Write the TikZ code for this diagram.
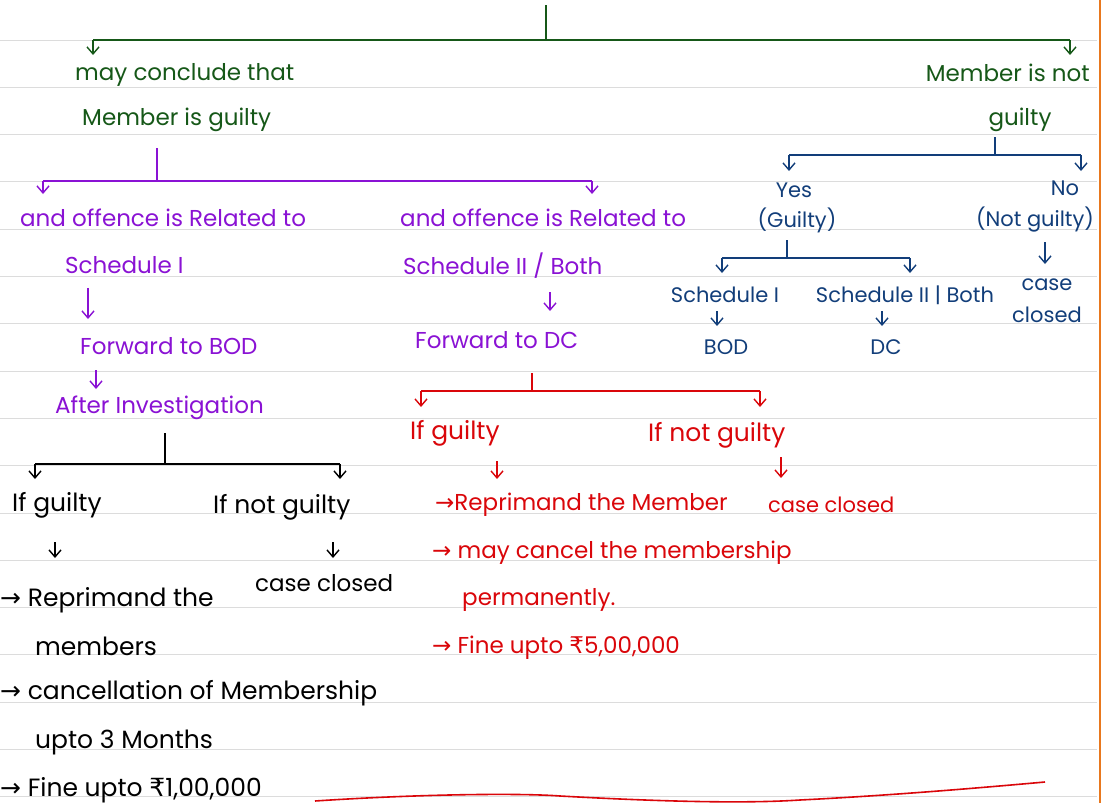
\documentclass[tikz,border=0pt]{standalone}
\usepackage{fontspec}
\setmainfont{Poppins}
\newfontfamily\sym{DejaVu Sans}
\usetikzlibrary{arrows.meta}
\definecolor{grn}{RGB}{22,88,24}
\definecolor{prp}{RGB}{138,18,212}
\definecolor{blu}{RGB}{18,62,122}
\definecolor{rd}{RGB}{218,6,10}
\definecolor{rulec}{RGB}{220,220,220}
\definecolor{edge}{RGB}{232,120,30}
\newcommand{\ar}{{\sym →}}
\newcommand{\rs}{{\sym ₹}}
\begin{document}
\begin{tikzpicture}[x=1pt,y=-1pt,
  txt/.style={inner sep=0pt, font=\fontsize{23}{26}\selectfont},
  big/.style={inner sep=0pt, font=\fontsize{25}{28}\selectfont},
  sm/.style={inner sep=0pt, font=\fontsize{21}{24}\selectfont},
  br/.style={line width=1.8pt},
  dn/.style={line width=1.4pt, -{Straight Barb[length=7pt,width=12pt,line width=1.4pt]}},
]
\useasboundingbox (0,0) rectangle (1101,803);
\fill[white] (0,0) rectangle (1101,803);
\foreach \k in {0,...,16} \draw[rulec, line width=1pt] (0,{40+47.3*\k}) -- (1097,{40+47.3*\k});
\draw[edge, line width=2pt] (1099.5,0) -- (1099.5,803);

% ---------- green level ----------
\coordinate (gtop) at (546,5);
\coordinate (gmid) at (546,40);
\coordinate (gL) at (93,40);
\coordinate (gR) at (1070,40);
\draw[grn,br] (gtop) -- (gmid);
\draw[grn,br] (gL) -- (gR);
\draw[grn,dn] (gL) -- ++(0,15);
\draw[grn,dn] (gR) -- ++(0,15);
\node[txt,grn,anchor=west] (g1) at (75,75) {may conclude that};
\node[txt,grn,anchor=west] (g2) at (82,120) {Member is guilty};
\node[txt,grn,anchor=east] (g3) at (1090,73) {Member is not};
\node[txt,grn] (g4) at (1020,120) {guilty};

% ---------- blue branch ----------
\coordinate (btop) at (995,137);
\coordinate (bmid) at (995,155);
\coordinate (bL) at (789,155);
\coordinate (bR) at (1081,155);
\draw[blu,line width=1.3pt] (btop) -- (bmid);
\draw[blu,br] (bL) -- (bR);
\draw[blu,dn] (bL) -- ++(0,16);
\draw[blu,dn] (bR) -- ++(0,16);
\node[sm,blu] (yes) at (794,190) {Yes};
\node[sm,blu] (yesg) at (797,220) {(Guilty)};
\node[sm,blu] (no) at (1065,188) {No};
\node[sm,blu] (nog) at (1035,220) {(Not guilty)};
\coordinate (ytop) at (787,240);
\coordinate (ymid) at (787,258);
\coordinate (yL) at (722,258);
\coordinate (yR) at (910,258);
\draw[blu,line width=1.3pt] (ytop) -- (ymid);
\draw[blu,br] (yL) -- (yR);
\draw[blu,dn] (yL) -- ++(0,15);
\draw[blu,dn] (yR) -- ++(0,15);
\node[sm,blu] (bs1) at (725,295) {Schedule I};
\node[sm,blu] (bs2) at (905,295) {Schedule II | Both};
\node[sm,blu] (bod) at (726,347) {BOD};
\node[sm,blu] (dc) at (886,347) {DC};
\draw[blu,dn] (717,311) -- (717,326);
\draw[blu,dn] (882,311) -- (882,326);
\draw[blu,dn] (1045,242) -- (1045,264);
\node[sm,blu] (cs) at (1047,285) {case};
\node[sm,blu] (cl) at (1047,315) {closed};

% ---------- purple branch ----------
\coordinate (ptop) at (157,148);
\coordinate (pmid) at (157,181);
\coordinate (pL) at (43,181);
\coordinate (pR) at (592,181);
\draw[prp,line width=1.4pt] (ptop) -- (pmid);
\draw[prp,br] (pL) -- (pR);
\draw[prp,dn] (pL) -- ++(0,13);
\draw[prp,dn] (pR) -- ++(0,13);
\node[txt,prp,anchor=west] (p1) at (20,218) {and offence is Related to};
\node[txt,prp,anchor=west] (p2) at (65,265) {Schedule I};
\node[txt,prp,anchor=west] (p3) at (80,346) {Forward to BOD};
\node[txt,prp,anchor=west] (p4) at (55,408) {After Investigation};
\draw[prp,dn] (p2.south -| 88,0) ++(0,14) -- (88,319);
\draw[prp,dn] (96,370) -- (96,389);
\node[txt,prp,anchor=west] (p5) at (400,218) {and offence is Related to};
\node[txt,prp,anchor=west] (p6) at (403,266) {Schedule II / Both};
\node[txt,prp,anchor=west] (p7) at (415,340) {Forward to DC};
\draw[prp,dn] (550,292) -- (550,311);

% ---------- red branch ----------
\coordinate (rtop) at (532,373);
\coordinate (rmid) at (532,391);
\coordinate (rL) at (421,391);
\coordinate (rR) at (760,391);
\draw[rd,line width=1.4pt] (rtop) -- (rmid);
\draw[rd,br] (rL) -- (rR);
\draw[rd,dn] (rL) -- ++(0,16);
\draw[rd,dn] (rR) -- ++(0,16);
\node[big,rd,anchor=west] (r1) at (410,433) {If guilty};
\node[big,rd,anchor=west] (r2) at (648,435) {If not guilty};
\draw[rd,dn] (497,461) -- (497,479);
\draw[rd,dn] (781,457) -- (781,478);
\node[txt,rd,anchor=west] (r3) at (435,505) {\ar Reprimand the Member};
\node[sm,rd,anchor=west] (r4) at (768,505) {case closed};
\node[txt,rd,anchor=west] (r5) at (432,553) {\ar\ may cancel the membership};
\node[txt,rd,anchor=west] (r6) at (462,600) {permanently.};
\node[txt,rd,anchor=west] (r7) at (432,648) {\ar\ Fine upto \rs5,00,000};
\draw[rd,line width=1.6pt] (315,801) .. controls (420,794) and (520,793) .. (560,796)
  .. controls (650,801) and (740,804) .. (800,800) .. controls (900,795) and (1000,786) .. (1045,782);

% ---------- black branch ----------
\coordinate (ktop) at (165,433);
\coordinate (kmid) at (165,464);
\coordinate (kL) at (35,464);
\coordinate (kR) at (340,464);
\draw[black,line width=1.4pt] (ktop) -- (kmid);
\draw[black,br] (kL) -- (kR);
\draw[black,dn] (kL) -- ++(0,15);
\draw[black,dn] (kR) -- ++(0,15);
\node[big,anchor=west] (k1) at (12,505) {If guilty};
\node[big,anchor=west] (k2) at (213,507) {If not guilty};
\draw[black,dn] (55,542) -- (55,558);
\draw[black,dn] (333,542) -- (333,558);
\node[txt,anchor=west] (k3) at (255,583) {case closed};
\node[big,anchor=west] (k4) at (0,600) {\ar\ Reprimand the};
\node[big,anchor=west] (k5) at (35,646) {members};
\node[big,anchor=west] (k6) at (0,693) {\ar\ cancellation of Membership};
\node[big,anchor=west] (k7) at (35,742) {upto 3 Months};
\node[big,anchor=west] (k8) at (0,790) {\ar\ Fine upto \rs1,00,000};
\end{tikzpicture}
\end{document}
